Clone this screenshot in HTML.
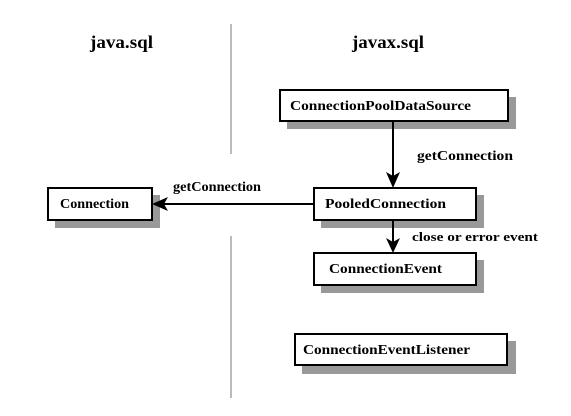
<!DOCTYPE html>
<html><head><style>
html,body{margin:0;padding:0;background:#fff;}
svg{display:block;}
text{font-family:"Liberation Serif",serif;font-weight:bold;fill:#000;}
</style></head><body>
<svg width="571" height="416" viewBox="0 0 571 416" xmlns="http://www.w3.org/2000/svg">
<line x1="231" y1="24" x2="231" y2="154" stroke="#bbb" stroke-width="2"/>
<line x1="231" y1="236" x2="231" y2="398" stroke="#bbb" stroke-width="2"/>
<text x="90" y="48" font-size="18" textLength="63" lengthAdjust="spacingAndGlyphs">java.sql</text>
<text x="352" y="48" font-size="18" textLength="72" lengthAdjust="spacingAndGlyphs">javax.sql</text>

<rect x="287" y="97" width="229" height="32" fill="#999"/>
<rect x="321" y="195" width="163" height="33" fill="#999"/>
<rect x="321" y="260" width="163" height="33" fill="#999"/>
<rect x="302" y="341" width="214" height="33" fill="#999"/>
<rect x="55" y="195" width="105" height="33" fill="#999"/>

<rect x="280" y="90" width="228" height="31" fill="#fff" stroke="#000" stroke-width="2"/>
<rect x="314" y="188" width="162" height="32" fill="#fff" stroke="#000" stroke-width="2"/>
<rect x="314" y="253" width="162" height="32" fill="#fff" stroke="#000" stroke-width="2"/>
<rect x="295" y="334" width="212" height="31" fill="#fff" stroke="#000" stroke-width="2"/>
<rect x="48" y="188" width="104" height="32" fill="#fff" stroke="#000" stroke-width="2"/>

<text x="290" y="110" font-size="14" textLength="181" lengthAdjust="spacingAndGlyphs">ConnectionPoolDataSource</text>
<text x="325" y="208" font-size="14" textLength="121" lengthAdjust="spacingAndGlyphs">PooledConnection</text>
<text x="329" y="273" font-size="14" textLength="113" lengthAdjust="spacingAndGlyphs">ConnectionEvent</text>
<text x="303" y="354" font-size="14" textLength="167" lengthAdjust="spacingAndGlyphs">ConnectionEventListener</text>
<text x="60" y="208" font-size="14" textLength="69" lengthAdjust="spacingAndGlyphs">Connection</text>

<line x1="393" y1="121" x2="393" y2="178" stroke="#000" stroke-width="2"/>
<polygon points="386,172 393,188 400,172 393,176" fill="#000"/>
<line x1="393" y1="220" x2="393" y2="245" stroke="#000" stroke-width="2"/>
<polygon points="386,238 393,253 400,238 393,242" fill="#000"/>
<line x1="162" y1="204" x2="314" y2="204" stroke="#000" stroke-width="2"/>
<polygon points="152,204 168,197 164,204 168,211" fill="#000"/>

<text x="417" y="160" font-size="14" textLength="96" lengthAdjust="spacingAndGlyphs">getConnection</text>
<text x="173" y="191" font-size="14" textLength="88" lengthAdjust="spacingAndGlyphs">getConnection</text>
<text x="412" y="241" font-size="13" textLength="126" lengthAdjust="spacingAndGlyphs">close or error event</text>
</svg>
</body></html>
